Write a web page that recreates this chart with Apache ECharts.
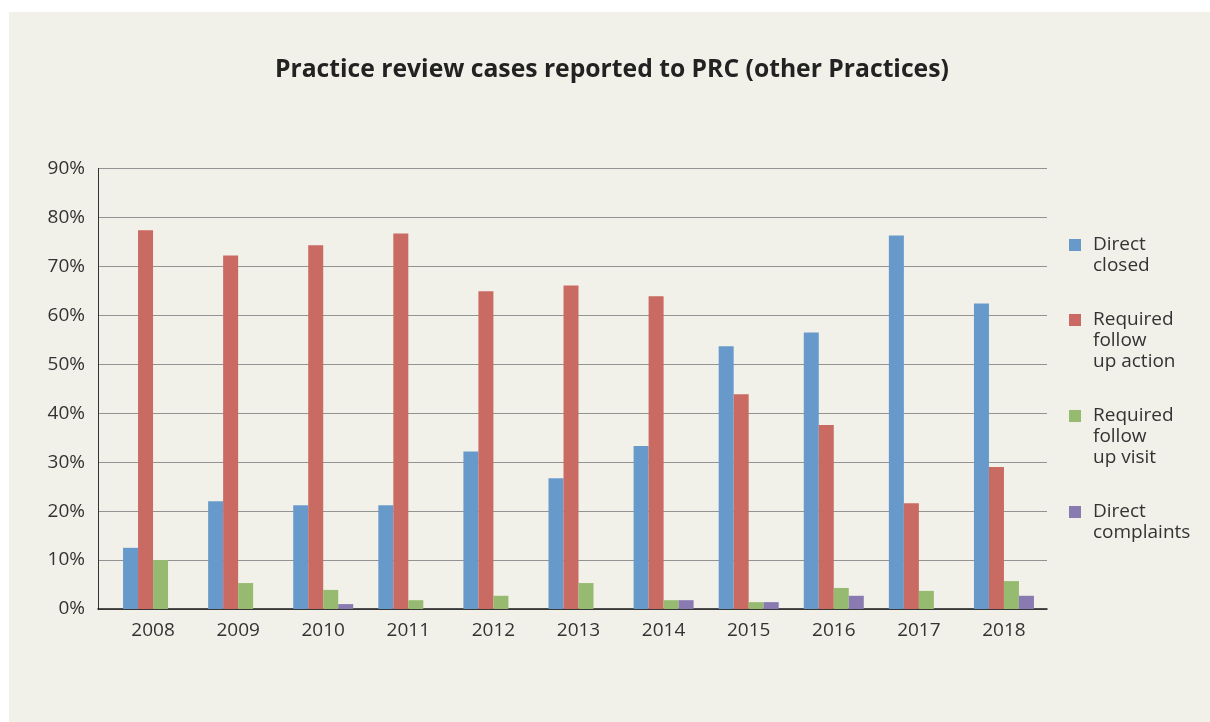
<!DOCTYPE html>
<html>
<head>
<meta charset="utf-8">
<title>Practice review cases reported to PRC</title>
<script src="https://cdn.jsdelivr.net/npm/echarts@6/dist/echarts.min.js"></script>
<style>
  html,body{margin:0;padding:0;background:#fff;}
  #panel{position:absolute;left:9px;top:12px;width:1201px;height:710px;background:#f2f1e9;}
  #chart{position:absolute;left:0;top:0;width:1210px;height:722px;}
</style>
</head>
<body>
<div id="panel"></div>
<div id="chart"></div>
<script>
// DATA
const years = ['2008','2009','2010','2011','2012','2013','2014','2015','2016','2017','2018'];
const directClosed   = [12.5, 22.0, 21.2, 21.2, 32.2, 26.7, 33.3, 53.7, 56.5, 76.3, 62.4];
const followAction   = [77.4, 72.2, 74.3, 76.7, 64.9, 66.1, 63.9, 43.9, 37.6, 21.6, 29.0];
const followVisit    = [10.0, 5.3, 3.9, 1.8, 2.7, 5.3, 1.8, 1.4, 4.3, 3.7, 5.7];
const directComplain = [0, 0, 1.0, 0, 0, 0, 1.8, 1.4, 2.7, 0, 2.7];
const seriesNames = ['Direct closed','Required follow up action','Required follow up visit','Direct complaints'];
const legendLines = [['Direct','closed'],['Required','follow','up action'],['Required','follow','up visit'],['Direct','complaints']];
const colors = ['#679aca','#c96a63','#96bb70','#897ab1'];
const yTicks = [0,10,20,30,40,50,60,70,80,90];

const FONT = '"Open Sans", "Noto Sans", sans-serif';
const LH = 21;
const legendIconY = [245, 320, 416, 512];

// one legend block per series; blank lines in front keep the icon level with the first line
const legends = seriesNames.map(function(name,i){
  const n = legendLines[i].length;
  const pad = new Array(n-1).fill(' ');
  return {
    orient:'vertical',
    left:1069,
    top:legendIconY[i] - (2*n-1)*LH/2,
    padding:0,
    itemWidth:12,
    itemHeight:12,
    icon:'rect',
    selectedMode:false,
    data:[name],
    formatter:function(){ return pad.concat(legendLines[i]).join('\n'); },
    textStyle:{
      fontFamily:FONT,fontSize:19,color:'#333',lineHeight:LH,
      padding:[0,0,0,7]
    }
  };
});

const chart = echarts.init(document.getElementById('chart'), null, {renderer:'canvas'});
chart.setOption({
  backgroundColor:'transparent',
  animation:false,
  title:{
    text:'Practice review cases reported to PRC (other Practices)',
    left:275,
    top:57,
    padding:0,
    textStyle:{fontFamily:FONT,fontSize:24.7,fontWeight:'bold',color:'#222'}
  },
  legend:legends,
  grid:[
    {left:98,right:163,top:168.5,bottom:113},
    {left:110.5,right:163.5,top:168.5,bottom:113}
  ],
  xAxis:[
    {gridIndex:0,type:'category',data:years,
     axisLine:{show:true,lineStyle:{color:'#1a1a1a',width:1.5}},
     axisTick:{show:false},axisLabel:{show:false},splitLine:{show:false}},
    {gridIndex:1,type:'category',data:years,
     axisLine:{show:false},axisTick:{show:false},
     axisLabel:{margin:12,fontFamily:FONT,fontSize:19,color:'#333'}}
  ],
  yAxis:[
    {gridIndex:0,type:'value',min:0,max:90,interval:10,
     axisLine:{show:true,lineStyle:{color:'#333',width:1}},
     axisTick:{show:false},
     axisLabel:{margin:13,fontFamily:FONT,fontSize:19,color:'#333',
       formatter:function(v){ return yTicks.indexOf(v)>=0 ? v+'%' : ''; }},
     splitLine:{show:true,lineStyle:{color:'#939393',width:1.2}}},
    {gridIndex:1,type:'value',min:0,max:90,show:false,splitLine:{show:false}}
  ],
  series:[directClosed,followAction,followVisit,directComplain].map(function(d,i){
    return {
      name:seriesNames[i],type:'bar',xAxisIndex:1,yAxisIndex:1,
      data:d,barWidth:15,barGap:'0%',
      itemStyle:{color:colors[i]}
    };
  })
});
</script>
</body>
</html>
